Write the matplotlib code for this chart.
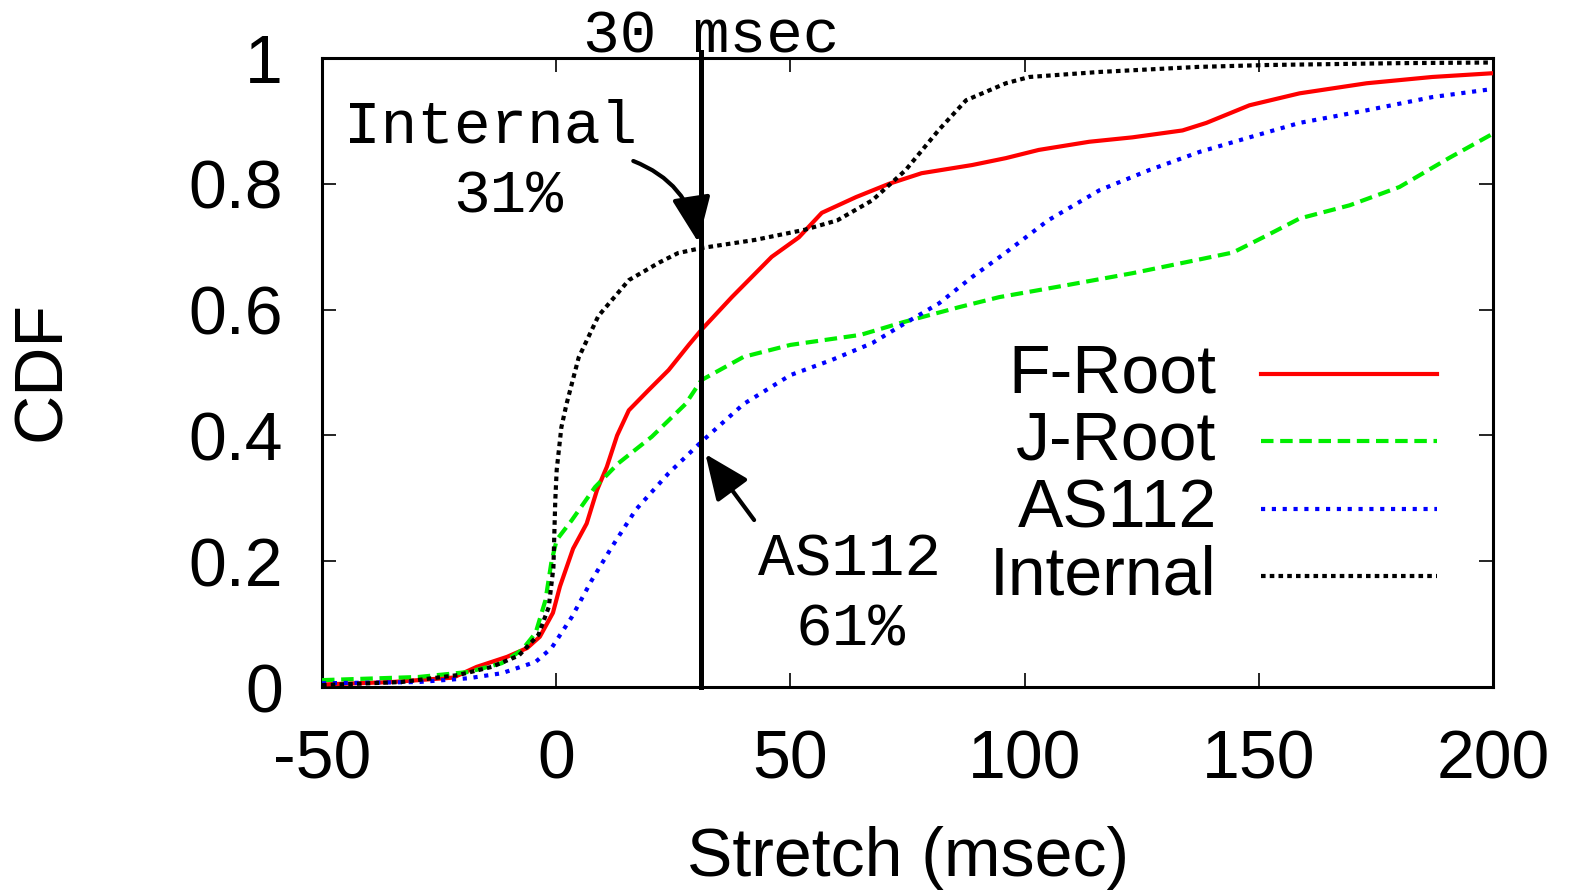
import matplotlib
matplotlib.use("Agg")
import matplotlib.pyplot as plt

# F-Root
froot_x = [-50, -35, -22, -17, -10.5, -6.2, -3.5, -0.7, 0.8, 3.6, 6.5, 8.7, 10.8, 13, 15.5, 19.7, 24,
           28.3, 31, 37.5, 46, 51.8, 56.7, 64, 71, 78, 88.8, 96, 103, 113.8, 123, 133.7, 138.8, 148,
           158.7, 173, 187, 200]
froot_y = [0.004, 0.008, 0.015, 0.032, 0.048, 0.062, 0.08, 0.118, 0.16, 0.22, 0.26, 0.313, 0.35, 0.40,
           0.44, 0.472, 0.504, 0.544, 0.568, 0.62, 0.684, 0.715, 0.754, 0.779, 0.80, 0.817, 0.83,
           0.841, 0.854, 0.867, 0.874, 0.885, 0.897, 0.925, 0.944, 0.96, 0.97, 0.976]

# J-Root
jroot_x = [-50, -29.4, -18.7, -11.6, -7.3, -4.4, -2.3, -1, 0.1, 3.3, 8.3, 13.3, 20.4, 27.6, 31, 40, 50,
           65, 74, 86, 94.6, 109, 123, 137.4, 144.5, 151.7, 158.7, 169.4, 180, 190.8, 200]
jroot_y = [0.011, 0.016, 0.024, 0.038, 0.059, 0.086, 0.138, 0.2, 0.234, 0.265, 0.318, 0.356, 0.398, 0.45,
           0.488, 0.525, 0.544, 0.56, 0.58, 0.604, 0.62, 0.639, 0.658, 0.68, 0.691, 0.718, 0.745, 0.766,
           0.795, 0.842, 0.88]

# AS112
as112_x = [-50, -29.4, -18.7, -11.6, -4.4, -1, 3.3, 7.6, 11.9, 17, 24, 31, 40, 50, 58.8, 67.5, 74.6,
           81.7, 88.8, 96, 105, 116, 126.6, 137.4, 148, 158.7, 173, 187, 200]
as112_y = [0.006, 0.008, 0.014, 0.022, 0.04, 0.062, 0.111, 0.17, 0.223, 0.282, 0.34, 0.39, 0.45, 0.496,
           0.52, 0.547, 0.579, 0.61, 0.652, 0.691, 0.742, 0.79, 0.822, 0.851, 0.874, 0.897, 0.917, 0.938,
           0.951]

# Internal
internal_x = [-50, -33, -21, -13.8, -8, -3.8, -1.6, -0.6, -0.4, -0.2, 0.1, 1.1, 2.2, 4.8, 9, 15.5, 22,
              26, 31, 42.5, 53, 60, 67.5, 74.6, 81.7, 87.5, 96, 101, 116, 137, 151.6, 180, 200]
internal_y = [0.003, 0.008, 0.019, 0.032, 0.05, 0.083, 0.127, 0.19, 0.245, 0.297, 0.345, 0.413, 0.45,
              0.524, 0.59, 0.647, 0.675, 0.69, 0.698, 0.711, 0.727, 0.742, 0.774, 0.822, 0.886, 0.933,
              0.96, 0.97, 0.978, 0.986, 0.989, 0.992, 0.993]

x_ticks = [-50, 0, 50, 100, 150, 200]
y_ticks = [0, 0.2, 0.4, 0.6, 0.8, 1]
y_tick_labels = ["0", "0.2", "0.4", "0.6", "0.8", "1"]
cutoff = 31

plt.rcParams['font.family'] = ['Liberation Sans', 'DejaVu Sans']
mono = ['Liberation Mono', 'DejaVu Sans Mono']
big = 49
mono_size = 44

fig = plt.figure(figsize=(15.7, 8.94), dpi=100)
ax = fig.add_axes([0.2051, 0.2315, 0.7459, 0.7035])

series = [
    ("F-Root", froot_x, froot_y, "#ff0000", "-"),
    ("J-Root", jroot_x, jroot_y, "#00ee00", (0, (3.0, 1.6))),
    ("AS112", as112_x, as112_y, "#0000ff", (0, (1.0, 1.6))),
    ("Internal", internal_x, internal_y, "#000000", (0, (1.1, 1.0))),
]
for name, xs, ys, color, ls in series:
    ax.plot(xs, ys, color=color, linestyle=ls, linewidth=3.0, dash_capstyle='butt', zorder=3)

ax.set_xlim(-50, 200)
ax.set_ylim(0, 1)
ax.set_xticks(x_ticks)
ax.set_xticklabels([str(t) for t in x_ticks])
ax.set_yticks(y_ticks)
ax.set_yticklabels(y_tick_labels)
ax.tick_params(direction='in', length=10, width=1.2, labelsize=big,
               top=True, right=True)
ax.tick_params(axis='x', pad=30)
ax.tick_params(axis='y', pad=28)
for sp in ax.spines.values():
    sp.set_linewidth(2.2)

# 30 msec line
ax.axvline(cutoff, ymin=0, ymax=1.01, color='black', linewidth=3.6, clip_on=False, zorder=4)
ax.text(cutoff + 2.0, 1.0095, "30 msec", family=mono, fontsize=mono_size, ha='center', va='baseline')

# annotations
ax.text(-14, 0.89, "Internal", family=mono, fontsize=mono_size, ha='center', va='center')
ax.text(-10.2, 0.779, "31%", family=mono, fontsize=mono_size, ha='center', va='center')
ax.annotate("", xy=(30.4, 0.703), xytext=(15.9, 0.838),
            arrowprops=dict(arrowstyle='-|>,head_length=1.4,head_width=0.6', color='black',
                            lw=3.0, mutation_scale=20, connectionstyle='arc3,rad=-0.3'))
ax.text(62.7, 0.202, "AS112", family=mono, fontsize=mono_size, ha='center', va='center')
ax.text(62.9, 0.09, "61%", family=mono, fontsize=mono_size, ha='center', va='center')
ax.annotate("", xy=(31.5, 0.374), xytext=(42.6, 0.262),
            arrowprops=dict(arrowstyle='-|>,head_length=1.4,head_width=0.6', color='black',
                            lw=3.0, mutation_scale=20))

# legend, gnuplot style
leg_rows = [0.497, 0.391, 0.283, 0.176]
for (name, xs, ys, color, ls), ry in zip(series, leg_rows):
    ax.text(0.764, ry, name, transform=ax.transAxes, fontsize=big, ha='right', va='center')
    ax.plot([0.8015, 0.952], [ry, ry], transform=ax.transAxes, color=color, linestyle=ls,
            linewidth=3.0, dash_capstyle='butt')

fig.text(42 / 1570, 1 - 371 / 894, "CDF", fontsize=big, rotation=90, ha='center', va='center')
fig.text(908 / 1570, 1 - 858 / 894, "Stretch (msec)", fontsize=big, ha='center', va='center')

fig.savefig("out.png", dpi=100)
